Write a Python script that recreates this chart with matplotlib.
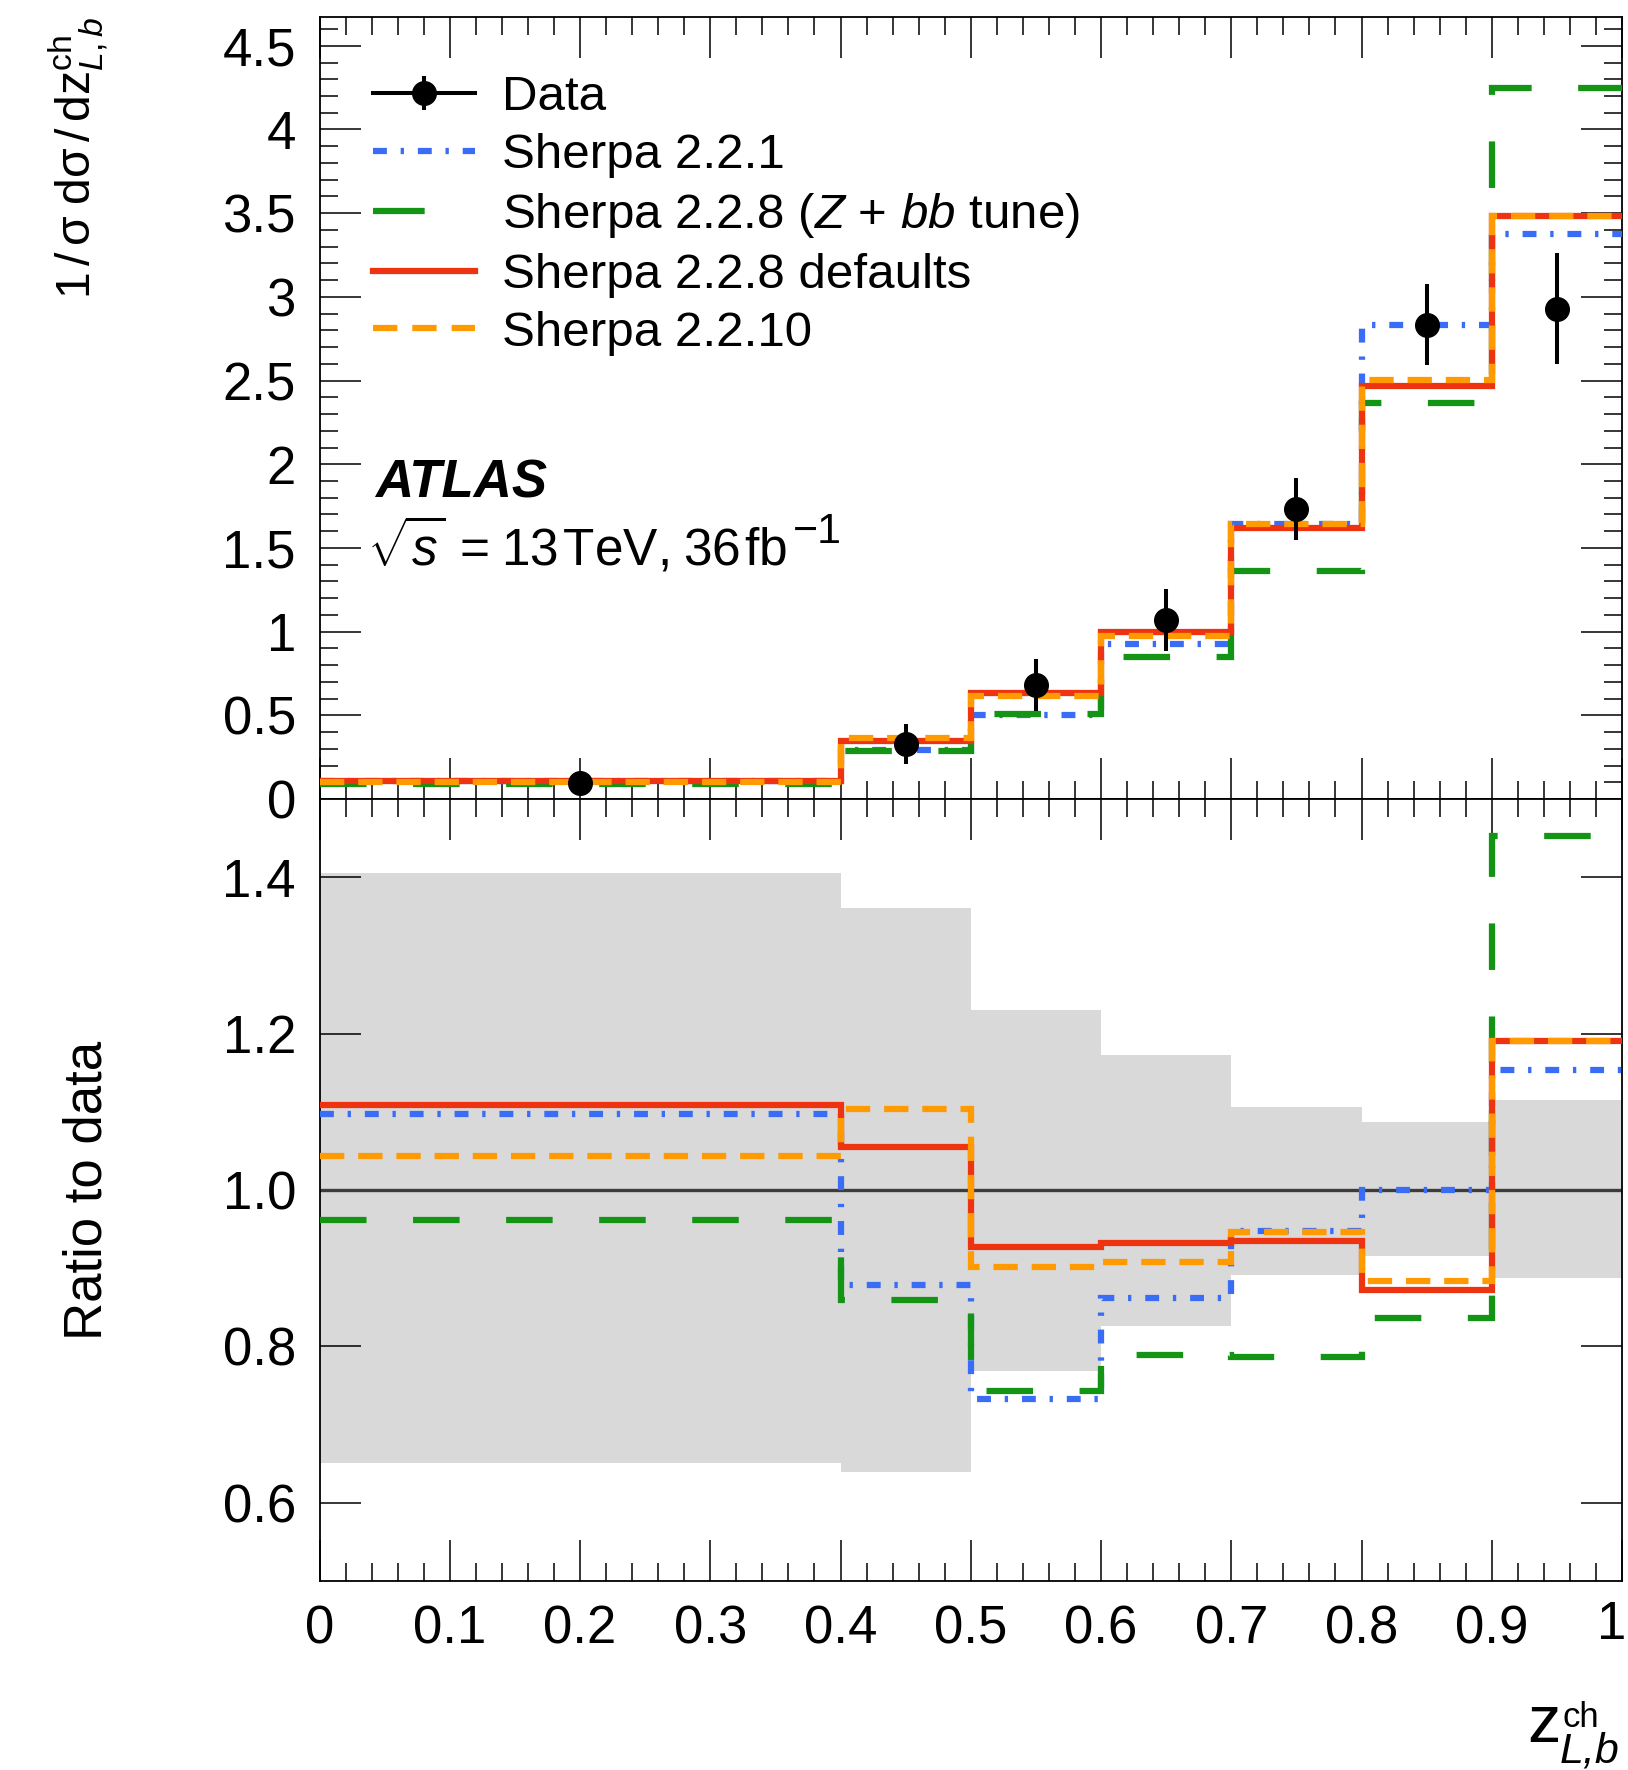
"""Charged-particle longitudinal momentum fraction of b-jets: data vs Sherpa."""

import numpy as np
import matplotlib
matplotlib.use("Agg")
import matplotlib.pyplot as plt
from matplotlib.lines import Line2D
from matplotlib.legend_handler import HandlerTuple
from matplotlib.ticker import MultipleLocator, FormatStrFormatter, FuncFormatter

plt.rcParams["font.family"] = ["Liberation Sans", "DejaVu Sans"]
plt.rcParams["mathtext.fontset"] = "custom"
plt.rcParams["mathtext.rm"] = "Liberation Sans"
plt.rcParams["mathtext.it"] = "Liberation Sans:italic"
plt.rcParams["mathtext.bf"] = "Liberation Sans:bold"
plt.rcParams["lines.scale_dashes"] = False

# binning in z_L^ch
bin_edges = [0.0, 0.4, 0.5, 0.6, 0.7, 0.8, 0.9, 1.0]

# unfolded data and total uncertainty (up / down)
data_vals = [0.096, 0.331, 0.681, 1.072, 1.734, 2.832, 2.925]
data_err_up = [0.0389, 0.1195, 0.157, 0.1855, 0.1835, 0.2445, 0.3365]
data_err_down = [0.0335, 0.1195, 0.158, 0.1865, 0.1890, 0.2405, 0.3275]

# generator predictions
sherpa_221 = [0.1053, 0.2906, 0.4992, 0.9241, 1.6421, 2.832, 3.3755]
sherpa_228_zbb = [0.0923, 0.2843, 0.5060, 0.8458, 1.3629, 2.3676, 4.250]
sherpa_228_def = [0.1064, 0.3492, 0.6313, 0.9991, 1.6213, 2.4695, 3.4837]
sherpa_2210 = [0.1002, 0.3651, 0.6136, 0.9734, 1.6404, 2.5035, 3.4837]

labels = [
    "Sherpa 2.2.1",
    r"Sherpa 2.2.8 ($Z$ + $bb$ tune)",
    "Sherpa 2.2.8 defaults",
    "Sherpa 2.2.10",
]
colors = ["#3a6df5", "#149414", "#ee3311", "#ff9a00"]
# dash patterns in points: dash-dot, long dash, solid, dashed
styles = [(0, (10.0, 9.9, 2.4, 10.0)), (0, (33.5, 33.5)), "-", (0, (17.5, 10.0))]
legend_styles = [(0, (10.0, 9.9, 2.4, 10.0)), (0, (37.2, 40.0)), "-", (0, (17.5, 10.8))]

W, H = 1628, 1770
fig = plt.figure(figsize=(W / 100, H / 100), dpi=100)
ax1 = fig.add_axes([319.5 / W, 1 - 799 / H, 1302.5 / W, 782 / H])
ax2 = fig.add_axes([319.5 / W, 1 - 1581 / H, 1302.5 / W, 782 / H])

edges = np.array(bin_edges)
centers = 0.5 * (edges[1:] + edges[:-1])
data = np.array(data_vals)
err_up = np.array(data_err_up)
err_dn = np.array(data_err_down)

preds = [sherpa_221, sherpa_228_zbb, sherpa_228_def, sherpa_2210]
lw = 4.5

# uncertainty band and unity line in the ratio panel
ax2.stairs(1 + err_up / data, edges, baseline=1 - err_dn / data, fill=True,
           color="#d9d9d9", lw=0, zorder=1)
ax2.axhline(1.0, color="#3c3c3c", lw=2.4, zorder=2)

handles = []
for pred, lab, col, ls, lls in zip(preds, labels, colors, styles, legend_styles):
    pred = np.array(pred)
    ax1.stairs(pred, edges, baseline=None, color=col, lw=lw, ls=ls, zorder=3)
    ax2.stairs(pred / data, edges, baseline=None, color=col, lw=lw, ls=ls, zorder=3)
    handles.append(Line2D([], [], color=col, lw=lw, ls=lls))

ax1.errorbar(centers, data, yerr=[err_dn, err_up], fmt="o", color="k", ms=17,
             elinewidth=2.9, capsize=0, zorder=5)

data_handle = (
    Line2D([], [], color="k", lw=2.9, marker="o", ms=17),
    Line2D([], [], color="k", marker="|", ms=24.5, mew=2.9, ls="none"),
)
ax1.legend([data_handle] + handles, ["Data"] + labels,
           handler_map={tuple: HandlerTuple(ndivide=1)},
           loc="upper left", bbox_to_anchor=(0.0408, 0.926),
           frameon=False, fontsize=35.5, handlelength=2.07,
           handletextpad=0.55, labelspacing=0.263, borderpad=0,
           borderaxespad=0)

# axes ranges and ticks
for ax in (ax1, ax2):
    ax.set_xlim(0, 1)
    ax.xaxis.set_major_locator(MultipleLocator(0.1))
    ax.xaxis.set_minor_locator(MultipleLocator(0.02))
    ax.tick_params(which="both", direction="in", top=True, right=True,
                   width=1.1, labelsize=38, pad=17)
    ax.tick_params(which="major", length=29.5)
    ax.tick_params(which="minor", length=13)
    for sp in ax.spines.values():
        sp.set_linewidth(1.3)

ax1.set_ylim(0, 4.672)
ax1.yaxis.set_major_locator(MultipleLocator(0.5))
ax1.yaxis.set_minor_locator(MultipleLocator(0.1))
ax1.yaxis.set_major_formatter(FuncFormatter(lambda v, p: "%g" % v))
ax1.tick_params(axis="x", labelbottom=False)

ax2.set_ylim(0.5, 1.5)
ax2.set_yticks([0.6, 0.8, 1.0, 1.2, 1.4])
ax2.yaxis.set_minor_locator(matplotlib.ticker.NullLocator())
ax2.yaxis.set_major_formatter(FormatStrFormatter("%.1f"))
# the last label sits on the figure edge, so it is drawn separately
ax2.xaxis.set_major_formatter(
    FuncFormatter(lambda v, p: "" if abs(v - 1) < 1e-9 else "%g" % v))
fig.text(1626 / W, 1 - 1625 / H, "1", ha="right", va="center", size=38)

# axis titles
fig.text(111 / W, 1 - 17 / H,
         r"$1\,/\,\mathrm{\sigma}\;\mathrm{d\sigma}\,/\,\mathrm{dz}^{\mathrm{ch}}_{L,b}$",
         rotation=90, ha="right", va="top", size=34.7)
fig.text(113 / W, 1 - 1190 / H, "Ratio to data", rotation=90,
         ha="right", va="center", size=38)
fig.text(1527 / W, 1 - 1742 / H, "z", size=48, va="baseline", ha="left")
fig.text(1563 / W, 1 - 1727 / H, "ch", size=25, va="baseline", ha="left")
fig.text(1560 / W, 1 - 1762 / H, "L,b", size=31, style="italic",
         va="baseline", ha="left")

# experiment label
fig.text(375 / W, 1 - 497 / H, "ATLAS", size=38, weight="bold",
         style="italic", va="baseline")
lumi = fig.text(367 / W, 1 - 566 / H,
                r"$\sqrt{s}\,=\hspace{0.08}13\hspace{0.1}\mathrm{TeV},"
                r"\hspace{0.08}36\hspace{0.1}\mathrm{fb}$",
                size=37, va="baseline")
# raised exponent placed just after the luminosity unit
fig.canvas.draw()
bb = lumi.get_window_extent()
fig.text((bb.x1 + 5) / W, 1 - 543 / H, "\u22121", size=31, va="baseline")

fig.savefig("out.png", dpi=100)
